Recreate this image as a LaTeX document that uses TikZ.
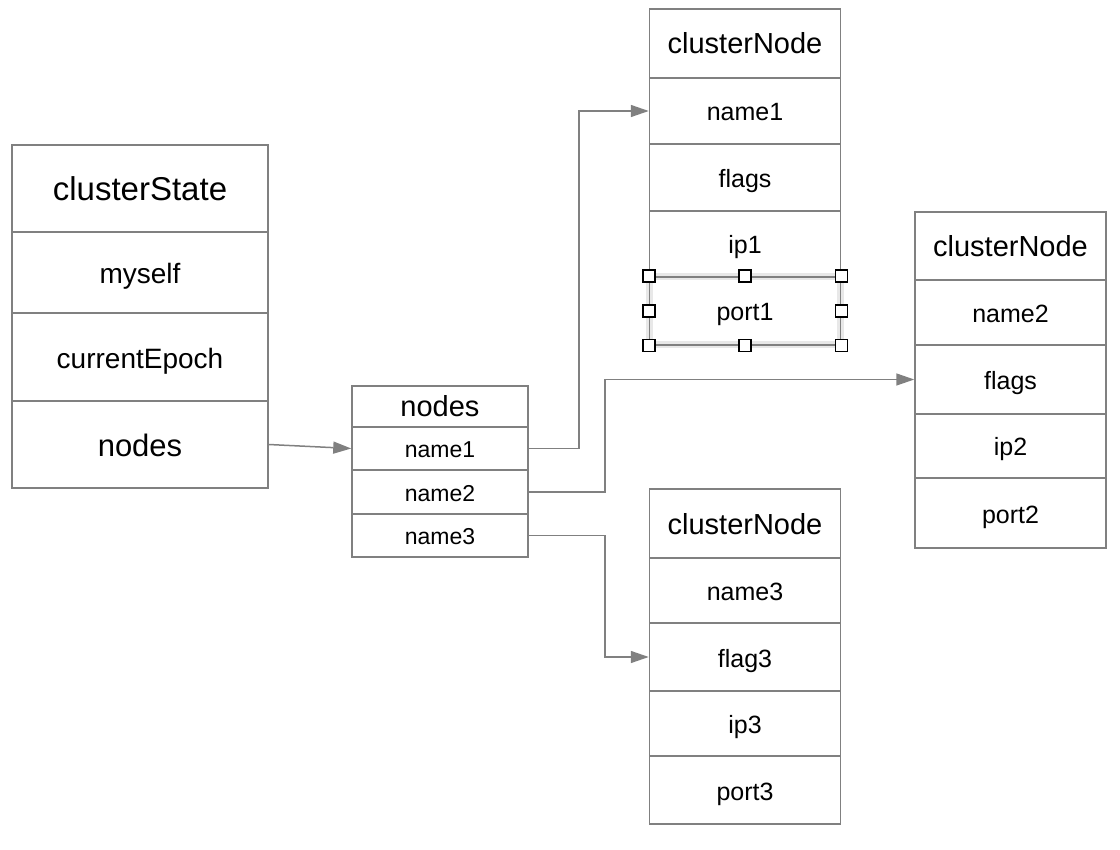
\documentclass[tikz,border=0pt]{standalone}
\usepackage{fontspec}
\setmainfont{Liberation Sans}
\usepackage{tikz}
\usetikzlibrary{arrows.meta, positioning}

\definecolor{lineGray}{HTML}{808080}
\definecolor{haloGray}{HTML}{E8E8E8}

\tikzset{
    field/.style={draw=lineGray, line width=1.5pt, rectangle, inner sep=0pt, text=black, text depth=0pt},
    csRow/.style={field, minimum width=256},
    ndRow/.style={field, minimum width=176},
    cnRow/.style={field, minimum width=191},
    link/.style={draw=lineGray, line width=1.5pt, -{Triangle[length=18pt, width=12pt]}},
    handle/.style={draw=black, fill=white, line width=1.5pt, minimum size=12, inner sep=0pt},
    big/.style={font=\fontsize{33}{36}\selectfont, text height=25pt},
    large/.style={font=\fontsize{31}{34}\selectfont, text height=24.8pt},
    head/.style={font=\fontsize{29}{32}\selectfont, text height=21pt},
    mid/.style={font=\fontsize{28}{30}\selectfont, text height=23pt},
    small/.style={font=\fontsize{25}{28}\selectfont, text height=20pt},
    tiny/.style={font=\fontsize{23}{26}\selectfont, text height=18.4pt}
}

\begin{document}
\begin{tikzpicture}[x=1pt, y=-1pt]
        \useasboundingbox (0, 0) rectangle (1120, 850);

        % clusterState
        \node[csRow, big, minimum height=87] at (140, 188.5) (csHead) {clusterState};
        \node[csRow, mid, minimum height=81] at (140, 272.5) (csMyself) {myself};
        \node[csRow, mid, minimum height=88] at (140, 357) (csEpoch) {currentEpoch};
        \node[csRow, large, minimum height=87] at (140, 444.5) (csNodes) {nodes};

        % nodes dict
        \node[ndRow, head, minimum height=41] at (440, 406.5) (ndHead) {nodes};
        \node[ndRow, tiny, minimum height=43] at (440, 448.5) (ndName1) {name1};
        \node[ndRow, tiny, minimum height=44] at (440, 492) (ndName2) {name2};
        \node[ndRow, tiny, minimum height=43] at (440, 535.5) (ndName3) {name3};

        % clusterNode 1
        \node[cnRow, head, minimum height=69] at (745, 43.5) (cn1Head) {clusterNode};
        \node[cnRow, small, minimum height=66] at (745, 111) (cn1Name) {name1};
        \node[cnRow, small, minimum height=67] at (745, 177.5) (cn1Flags) {flags};
        \node[cnRow, small, minimum height=66] at (745, 244) (cn1Ip) {ip1};
        \node[cnRow, small, minimum height=68, preaction={draw=haloGray, line width=7pt}] at (745, 311) (cn1Port) {port1};

        % clusterNode 2
        \node[cnRow, head, minimum height=68] at (1010.5, 246) (cn2Head) {clusterNode};
        \node[cnRow, small, minimum height=65] at (1010.5, 312.5) (cn2Name) {name2};
        \node[cnRow, small, minimum height=69] at (1010.5, 379.5) (cn2Flags) {flags};
        \node[cnRow, small, minimum height=64] at (1010.5, 446) (cn2Ip) {ip2};
        \node[cnRow, small, minimum height=70] at (1010.5, 513) (cn2Port) {port2};

        % clusterNode 3
        \node[cnRow, head, minimum height=69] at (745, 523.5) (cn3Head) {clusterNode};
        \node[cnRow, small, minimum height=65] at (745, 590.5) (cn3Name) {name3};
        \node[cnRow, small, minimum height=68] at (745, 657) (cn3Flag) {flag3};
        \node[cnRow, small, minimum height=65] at (745, 723.5) (cn3Ip) {ip3};
        \node[cnRow, small, minimum height=68] at (745, 790) (cn3Port) {port3};

        % selection handles
        \foreach \a in {north west, north, north east, east, south east, south, south west, west}
            \node[handle] at (cn1Port.\a) {};

        \draw[link] (csNodes.east) to (ndName1.west);
        \draw[link] (ndName1.east) -- ++(50, 0) |- (cn1Name.west);
        \draw[link] (ndName2.east) -- ++(76, 0) |- (cn2Flags.west);
        \draw[link] (ndName3.east) -- ++(76, 0) |- (cn3Flag.west);
    \end{tikzpicture}
\end{document}
